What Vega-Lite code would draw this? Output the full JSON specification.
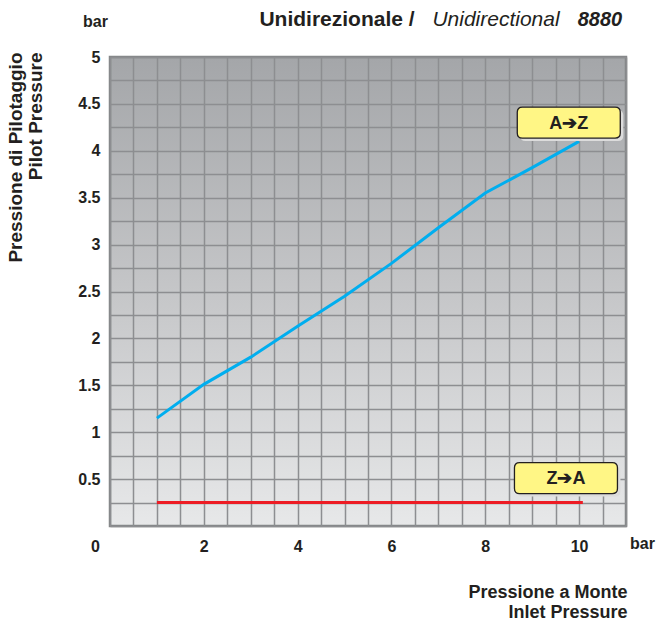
{
  "$schema": "https://vega.github.io/schema/vega-lite/v6.json",
  "width": 516,
  "height": 469,
  "autosize": {"type": "none"},
  "padding": {"left": 110, "top": 57, "right": 31, "bottom": 97},
  "background": "white",
  "config": {
    "font": "Liberation Sans",
    "view": {
      "fill": {"gradient": "linear", "x1": 0, "y1": 0, "x2": 0, "y2": 1,
        "stops": [{"offset": 0, "color": "#a4a6a9"}, {"offset": 0.5, "color": "#c5c6c8"}, {"offset": 1, "color": "#e7e8e9"}]},
      "stroke": "#858688",
      "strokeWidth": 2.5
    },
    "axis": {
      "grid": true,
      "gridColor": "#8d8e91",
      "gridWidth": 1.5,
      "gridOpacity": 1,
      "ticks": false,
      "domain": false,
      "tickCount": 100,
      "labelFont": "Liberation Sans",
      "labelFontSize": 16,
      "labelFontWeight": "bold",
      "labelColor": "#231f20",
      "labelOverlap": false,
      "labelFlush": false,
      "titleFont": "Liberation Sans",
      "titleFontSize": 18,
      "titleFontWeight": "bold",
      "titleColor": "#231f20",
      "titleLineHeight": 20
    }
  },
  "datasets": {
    "curves": [
      {"series": "A→Z", "inlet": 1, "pilot": 1.15},
      {"series": "A→Z", "inlet": 2, "pilot": 1.51},
      {"series": "A→Z", "inlet": 3, "pilot": 1.8},
      {"series": "A→Z", "inlet": 4, "pilot": 2.13},
      {"series": "A→Z", "inlet": 5, "pilot": 2.45},
      {"series": "A→Z", "inlet": 6, "pilot": 2.8},
      {"series": "A→Z", "inlet": 7, "pilot": 3.18},
      {"series": "A→Z", "inlet": 8, "pilot": 3.55},
      {"series": "A→Z", "inlet": 9, "pilot": 3.82},
      {"series": "A→Z", "inlet": 10, "pilot": 4.1},
      {"series": "Z→A", "inlet": 1, "pilot": 0.25},
      {"series": "Z→A", "inlet": 10.08, "pilot": 0.25}
    ],
    "tags": [
      {"tag": "A➔Z", "inlet": 9.78, "pilot": 4.3},
      {"tag": "Z➔A", "inlet": 9.72, "pilot": 0.51}
    ]
  },
  "layer": [
    {
      "data": {"name": "curves"},
      "mark": {"type": "line", "strokeWidth": 3},
      "encoding": {
        "x": {
          "field": "inlet", "type": "quantitative",
          "scale": {"domain": [0, 11], "nice": false, "zero": false},
          "axis": {
            "values": [0, 0.5, 1, 1.5, 2, 2.5, 3, 3.5, 4, 4.5, 5, 5.5, 6, 6.5, 7, 7.5, 8, 8.5, 9, 9.5, 10, 10.5, 11],
            "tickCount": 100,
            "labelExpr": "datum.value === 11 ? 'bar' : (datum.value % 2 === 0 ? '' + datum.value : '')",
            "labelOffset": {"condition": [{"test": "datum.value === 0", "value": -15}, {"test": "datum.value === 11", "value": 16}], "value": 0},
            "labelPadding": {"condition": {"test": "datum.value === 11", "value": 9}, "value": 12},
            "title": ["Pressione a Monte", "Inlet Pressure"],
            "titleAlign": "right",
            "titleAnchor": "end",
            "titleX": 517,
            "titleY": 71,
            "titleBaseline": "alphabetic"
          }
        },
        "y": {
          "field": "pilot", "type": "quantitative",
          "scale": {"domain": [0, 5], "nice": false},
          "axis": {
            "values": [0, 0.25, 0.5, 0.75, 1, 1.25, 1.5, 1.75, 2, 2.25, 2.5, 2.75, 3, 3.25, 3.5, 3.75, 4, 4.25, 4.5, 4.75, 5],
            "tickCount": 100,
            "labelExpr": "datum.value > 0 && (datum.value * 2) % 1 === 0 ? '' + datum.value : ''",
            "labelPadding": 10,
            "title": ["Pressione di Pilotaggio", "Pilot Pressure"],
            "titleAngle": -90,
            "titleAlign": "right",
            "titleAnchor": "end",
            "titleBaseline": "bottom",
            "titleFontSize": 19,
            "titleX": -85,
            "titleY": -5
          }
        },
        "color": {
          "field": "series", "type": "nominal",
          "scale": {"domain": ["A→Z", "Z→A"], "range": ["#00aeef", "#ed1c24"]},
          "legend": null
        }
      }
    },
    {
      "data": {"name": "tags"},
      "mark": {"type": "point", "filled": true, "size": 10609, "xOffset": 3, "yOffset": 3, "fill": "#dcdcdc", "opacity": 1, "strokeWidth": 0,
        "shape": "M -0.9 -0.3 L 0.9 -0.3 Q 1 -0.3 1 -0.2 L 1 0.2 Q 1 0.3 0.9 0.3 L -0.9 0.3 Q -1 0.3 -1 0.2 L -1 -0.2 Q -1 -0.3 -0.9 -0.3 Z"},
      "encoding": {
        "x": {"field": "inlet", "type": "quantitative"},
        "y": {"field": "pilot", "type": "quantitative"}
      }
    },
    {
      "data": {"name": "tags"},
      "mark": {"type": "point", "filled": true, "size": 10609, "fill": "#fff685", "opacity": 1, "stroke": "#231f20", "strokeWidth": 1.3,
        "shape": "M -0.9 -0.3 L 0.9 -0.3 Q 1 -0.3 1 -0.2 L 1 0.2 Q 1 0.3 0.9 0.3 L -0.9 0.3 Q -1 0.3 -1 0.2 L -1 -0.2 Q -1 -0.3 -0.9 -0.3 Z"},
      "encoding": {
        "x": {"field": "inlet", "type": "quantitative"},
        "y": {"field": "pilot", "type": "quantitative"}
      }
    },
    {
      "data": {"name": "tags"},
      "mark": {"type": "text", "fontSize": 18, "fontWeight": "bold", "color": "#231f20", "baseline": "middle", "align": "center", "dy": 1},
      "encoding": {
        "x": {"field": "inlet", "type": "quantitative"},
        "y": {"field": "pilot", "type": "quantitative"},
        "text": {"field": "tag"}
      }
    },
    {
      "data": {"values": [{"t": "bar"}]},
      "mark": {"type": "text", "fontSize": 16, "fontWeight": "bold", "color": "#231f20", "align": "right", "baseline": "alphabetic", "dx": -2, "dy": -30},
      "encoding": {"x": {"datum": 0, "type": "quantitative"}, "y": {"datum": 5, "type": "quantitative"}, "text": {"field": "t"}}
    },
    {
      "data": {"values": [{"t": "Unidirezionale /"}]},
      "mark": {"type": "text", "fontSize": 21, "fontWeight": "bold", "color": "#231f20", "align": "center", "baseline": "alphabetic", "dx": -289, "dy": -31},
      "encoding": {"x": {"datum": 11, "type": "quantitative"}, "y": {"datum": 5, "type": "quantitative"}, "text": {"field": "t"}}
    },
    {
      "data": {"values": [{"t": "Unidirectional"}]},
      "mark": {"type": "text", "fontSize": 21, "fontStyle": "italic", "color": "#231f20", "align": "center", "baseline": "alphabetic", "dx": -130, "dy": -31},
      "encoding": {"x": {"datum": 11, "type": "quantitative"}, "y": {"datum": 5, "type": "quantitative"}, "text": {"field": "t"}}
    },
    {
      "data": {"values": [{"t": "8880"}]},
      "mark": {"type": "text", "fontSize": 20, "fontWeight": "bold", "fontStyle": "italic", "color": "#231f20", "align": "center", "baseline": "alphabetic", "dx": -26, "dy": -31},
      "encoding": {"x": {"datum": 11, "type": "quantitative"}, "y": {"datum": 5, "type": "quantitative"}, "text": {"field": "t"}}
    }
  ]
}
